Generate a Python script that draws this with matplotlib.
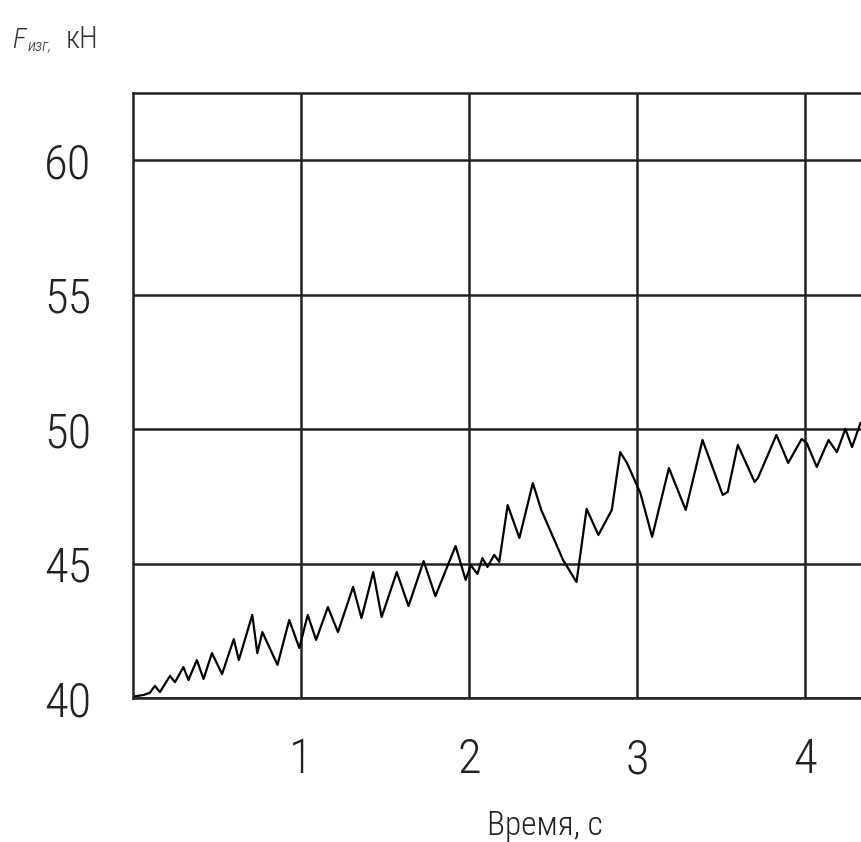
import matplotlib
matplotlib.use("Agg")
import matplotlib.pyplot as plt
from matplotlib import font_manager

# данные
time_s = [0.00, 0.06, 0.10, 0.13, 0.16, 0.22, 0.25, 0.30, 0.33, 0.38,
          0.42, 0.47, 0.53, 0.60, 0.63, 0.71, 0.74, 0.77, 0.86, 0.93,
          0.99, 1.04, 1.09, 1.16, 1.22, 1.31, 1.36, 1.43, 1.48, 1.57,
          1.64, 1.73, 1.80, 1.92, 1.98, 2.01, 2.05, 2.08, 2.11, 2.15,
          2.18, 2.23, 2.30, 2.38, 2.43, 2.56, 2.64, 2.70, 2.77, 2.85,
          2.90, 2.94, 3.02, 3.09, 3.19, 3.29, 3.39, 3.51, 3.54, 3.60,
          3.70, 3.72, 3.83, 3.90, 3.98, 4.01, 4.07, 4.14, 4.19, 4.24,
          4.28, 4.33]
force_kN = [40.05, 40.11, 40.19, 40.45, 40.22, 40.82, 40.59, 41.15, 40.67, 41.41,
            40.71, 41.67, 40.89, 42.19, 41.41, 43.09, 41.67, 42.45, 41.23, 42.90,
            41.86, 43.09, 42.16, 43.38, 42.45, 44.13, 42.97, 44.68, 43.01, 44.68,
            43.42, 45.09, 43.79, 45.65, 44.39, 44.94, 44.61, 45.20, 44.87, 45.32,
            45.06, 47.17, 45.95, 47.99, 46.99, 45.13, 44.31, 47.03, 46.06, 46.99,
            49.14, 48.74, 47.62, 45.99, 48.55, 46.99, 49.59, 47.55, 47.66, 49.41,
            48.03, 48.18, 49.78, 48.74, 49.63, 49.48, 48.59, 49.59, 49.14, 50.00,
            49.33, 50.22]
x_ticks = [1, 2, 3, 4]
y_ticks = [40, 45, 50, 55, 60]

# узкий тонкий шрифт, если есть
names = {f.name for f in font_manager.fontManager.ttflist}
fam = 'DejaVu Sans'
for cand in ['Roboto Condensed', 'Liberation Sans Narrow', 'Open Sans Condensed', 'Roboto']:
    if cand in names:
        fam = cand
        break
plt.rcParams['font.family'] = [fam, 'DejaVu Sans']
plt.rcParams['font.weight'] = 'light'

fig = plt.figure(figsize=(8.62, 8.42), dpi=100)
ax = fig.add_axes([133 / 862, 1 - 698 / 842, 1 - 133 / 862, (698 - 93) / 842])

ax.plot(time_s, force_kN, color='black', lw=1.6)

ax.set_xlim(0, (862 - 133) / 168)
ax.set_ylim(40, 40 + (698 - 93) / 26.9)
ax.set_xticks(x_ticks)
ax.set_yticks(y_ticks)
ax.tick_params(length=0, labelsize=35, colors='#222222')
ax.tick_params(axis='y', pad=30)
ax.tick_params(axis='x', pad=28)
ax.grid(True, color='#222222', lw=1.8)
for s in ['left', 'top', 'bottom']:
    ax.spines[s].set_color('#222222')
    ax.spines[s].set_linewidth(1.8)
ax.spines['right'].set_visible(False)

fig.text(545 / 862, 1 - 826 / 842, 'Время, с', ha='center', va='center',
         fontsize=24, color='#222222')
fig.text(12 / 862, 1 - 40 / 842, 'F', ha='left', va='center', fontsize=20,
         style='italic', color='#333333')
fig.text(28 / 862, 1 - 46 / 842, 'изг,', ha='left', va='center', fontsize=12,
         style='italic', color='#333333')
fig.text(66 / 862, 1 - 40 / 842, 'кН', ha='left', va='center', fontsize=22,
         color='#333333')

fig.savefig('out.png', dpi=100)
